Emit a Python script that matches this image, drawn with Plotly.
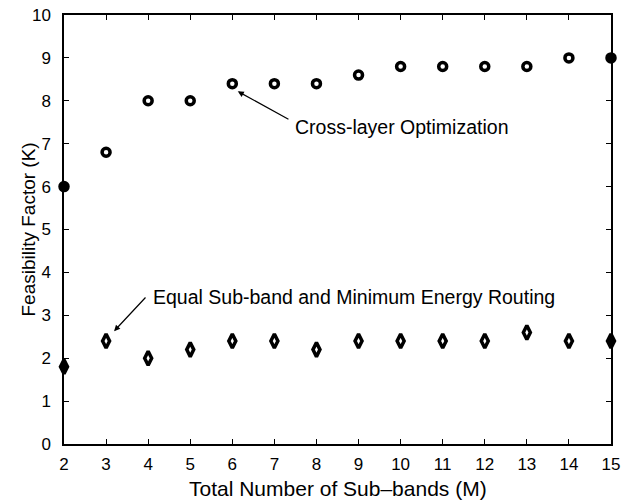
import plotly.graph_objects as go

m_values = [2, 3, 4, 5, 6, 7, 8, 9, 10, 11, 12, 13, 14, 15]
cross_layer = [6, 6.8, 8, 8, 8.4, 8.4, 8.4, 8.6, 8.8, 8.8, 8.8, 8.8, 9, 9]
equal_subband = [1.8, 2.4, 2.0, 2.2, 2.4, 2.4, 2.2, 2.4, 2.4, 2.4, 2.4, 2.6, 2.4, 2.4]
x_ticks = list(range(2, 16))
y_ticks = list(range(0, 11))

FONT = "Liberation Sans, Arial, Helvetica, sans-serif"

def fills(xs):
    return ["black" if (x == min(xs) or x == max(xs)) else "white" for x in xs]

fig = go.Figure()
fig.add_trace(go.Scatter(
    x=m_values, y=cross_layer, mode="markers", cliponaxis=False,
    marker=dict(symbol="circle", size=8, color=fills(m_values),
                line=dict(color="black", width=3.5)),
    showlegend=False))
fig.add_trace(go.Scatter(
    x=m_values, y=equal_subband, mode="markers", cliponaxis=False,
    marker=dict(symbol="diamond-tall", size=10, color=fills(m_values),
                line=dict(color="black", width=3.5)),
    showlegend=False))

axis_common = dict(
    showgrid=False, zeroline=False, showline=True, linecolor="black", linewidth=1.5,
    mirror="ticks", ticks="inside", ticklen=5, tickcolor="black", tickwidth=1,
    tickfont=dict(family=FONT, size=17, color="black"), automargin=False,
)

fig.update_xaxes(range=[2, 15], tickvals=x_ticks, ticklabelstandoff=4, **axis_common)
fig.update_yaxes(range=[0, 10], tickvals=y_ticks, ticklabelstandoff=8, **axis_common)

# axis titles
fig.add_annotation(xref="paper", yref="paper", x=0.5, y=0, yshift=-44,
                   xanchor="center", yanchor="middle", showarrow=False,
                   text="Total Number of Sub\u2013bands (M)",
                   font=dict(family=FONT, size=21, color="black"))
fig.add_annotation(xref="paper", yref="paper", x=0, y=0.5, xshift=-36,
                   xanchor="center", yanchor="middle", showarrow=False, textangle=-90,
                   text="Feasibility Factor (K)",
                   font=dict(family=FONT, size=19, color="black"))

ann_font = dict(family=FONT, size=19.5, color="black")
fig.add_annotation(x=10.01, y=7.39, text="Cross-layer Optimization", showarrow=False,
                   font=ann_font)
fig.add_annotation(x=6.13, y=8.22, ax=7.37, ay=7.55, axref="x", ayref="y", text="",
                   showarrow=True, arrowhead=2, arrowsize=1, arrowwidth=1.2, arrowcolor="black")
fig.add_annotation(x=8.9, y=3.42, text="Equal Sub-band and Minimum Energy Routing",
                   showarrow=False, font=ann_font)
fig.add_annotation(x=3.19, y=2.63, ax=3.97, ay=3.45, axref="x", ayref="y", text="",
                   showarrow=True, arrowhead=2, arrowsize=1, arrowwidth=1.2, arrowcolor="black")

fig.update_layout(
    width=621, height=500,
    margin=dict(l=64, r=10, t=15, b=56),
    paper_bgcolor="white", plot_bgcolor="white",
    font=dict(family=FONT, color="black"),
)

fig.write_html("out.html", config={"displayModeBar": False},
               post_script="document.body.style.margin='0';")
